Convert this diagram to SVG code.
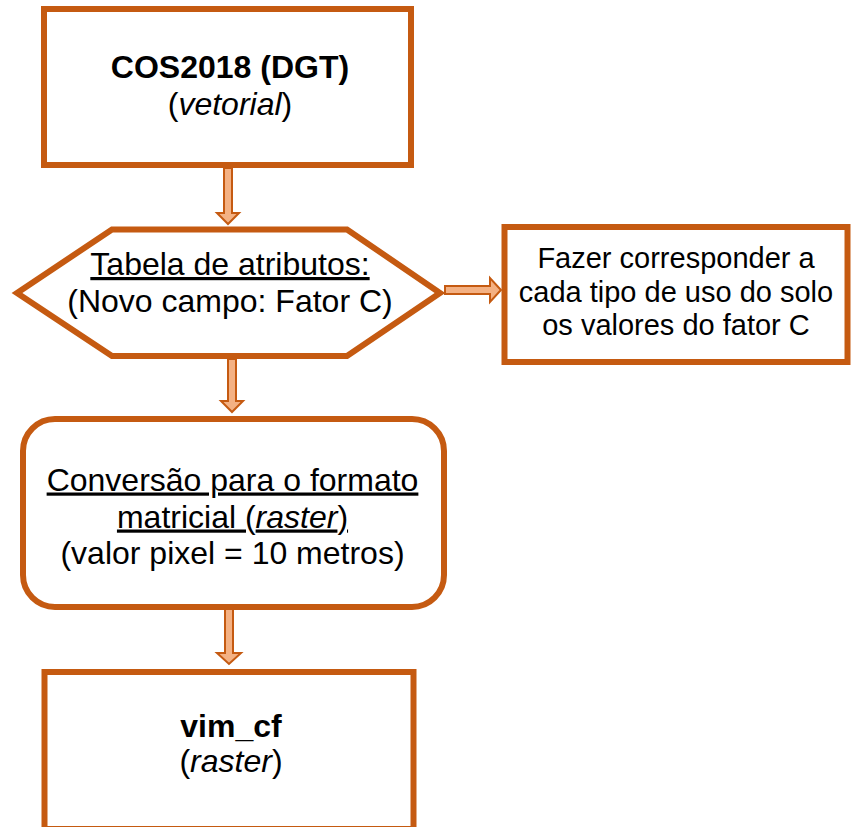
<svg xmlns="http://www.w3.org/2000/svg" width="852" height="827" viewBox="0 0 852 827">
<style>
.box{fill:#FFFFFF;stroke:#C55A11;stroke-width:6;stroke-linejoin:miter}
.arr{fill:#F4B183;stroke:#C55A11;stroke-width:2;stroke-linejoin:miter}
.t{font-family:"Liberation Sans",Arial,sans-serif;font-size:32px;fill:#000000;text-anchor:middle}
.s{font-size:29px}
.b{font-weight:bold}
.i{font-style:italic}
.u{text-decoration:underline}
</style>
<rect width="852" height="827" fill="#FFFFFF"/>
<g id="connectors">
<path class="arr" d="M224,168 H232 V213 H239 L228,224 L217,213 H224 Z"/>
<path class="arr" d="M445,286 H490 V278 L501,290 L490,302 V294 H445 Z"/>
<path class="arr" d="M228,359 H236 V401 H243 L232,412 L221,401 H228 Z"/>
<path class="arr" d="M225,609 H233 V653 H241 L229,664 L217,653 H225 Z"/>
</g>
<g id="cos2018">
<rect class="box" x="44" y="9" width="367" height="156"/>
<text class="t b" x="230" y="78">COS2018 (DGT)</text>
<text class="t" x="230" y="115">(<tspan class="i">vetorial</tspan>)</text>
</g>
<g id="tabela">
<polygon class="box" points="17,293 112,229.5 347,229.5 440,293 347,356 112,356"/>
<text class="t u" x="230" y="275">Tabela de atributos:</text>
<text class="t" x="230" y="312">(Novo campo: Fator C)</text>
</g>
<g id="fazer">
<rect class="box" x="504.5" y="227" width="343" height="135"/>
<text class="t s" x="676" y="268">Fazer corresponder a</text>
<text class="t s" x="676" y="301.5">cada tipo de uso do solo</text>
<text class="t s" x="676" y="335">os valores do fator C</text>
</g>
<g id="conversao">
<rect class="box" x="23" y="419" width="421" height="188" rx="32" ry="32"/>
<text class="t u" x="232.5" y="490.5">Conversão para o formato</text>
<text class="t u" x="232.5" y="527.5">matricial (<tspan class="i">raster</tspan>)</text>
<text class="t" x="232.5" y="564">(valor pixel = 10 metros)</text>
</g>
<g id="vim_cf">
<rect class="box" x="44.5" y="672" width="369" height="157"/>
<text class="t b" x="231" y="737">vim_cf</text>
<text class="t" x="231" y="772">(<tspan class="i">raster</tspan>)</text>
</g>
</svg>
